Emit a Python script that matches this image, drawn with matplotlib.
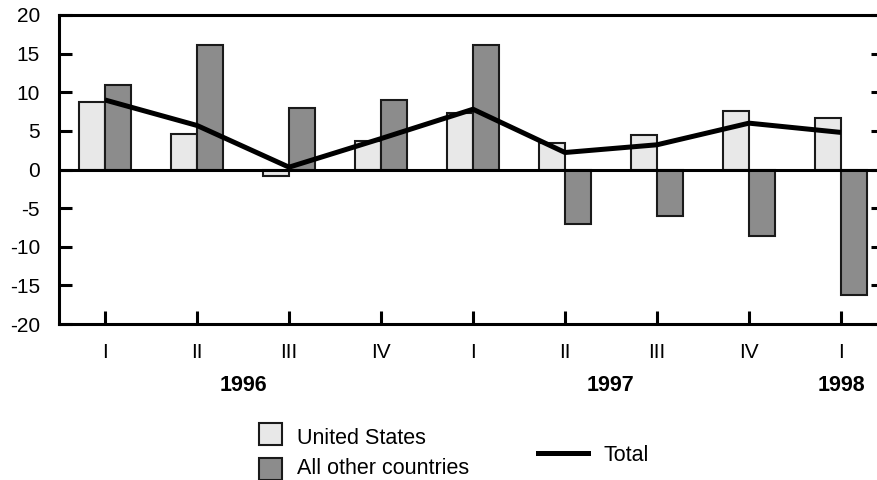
import matplotlib
matplotlib.use("Agg")
import matplotlib.pyplot as plt
from matplotlib.patches import Rectangle
from matplotlib.lines import Line2D
import numpy as np

plt.rcParams['font.family'] = ['Liberation Sans', 'DejaVu Sans']
plt.rcParams['axes.unicode_minus'] = False

quarters = ["I", "II", "III", "IV", "I", "II", "III", "IV", "I"]
years = ["1996", "1997", "1998"]
us = [8.7, 4.6, -0.8, 3.7, 7.3, 3.4, 4.5, 7.6, 6.7]
others = [10.9, 16.1, 7.9, 9.0, 16.1, -7.1, -6.0, -8.6, -16.3]
total = [9.0, 5.7, 0.3, 4.0, 7.8, 2.2, 3.2, 6.0, 4.8]

W, H = 878, 480
fig = plt.figure(figsize=(W / 100, H / 100), dpi=100)
left_px, right_px, top_px, bot_px = 59.5, 884, 15, 324
ax = fig.add_axes([left_px / W, 1 - bot_px / H, (right_px - left_px) / W, (bot_px - top_px) / H])

x = np.arange(len(quarters))
bw = 0.28
edge = '#1a1a1a'
ax.bar(x - bw / 2, us, bw, color='#e8e8e8', edgecolor=edge, linewidth=1.5, zorder=2)
ax.bar(x + bw / 2, others, bw, color='#8c8c8c', edgecolor=edge, linewidth=1.5, zorder=2)
ax.axhline(0, color='black', linewidth=2.2, zorder=3)
ax.plot(x, total, color='black', linewidth=3.6, zorder=4, solid_capstyle='butt')

ax.set_ylim(-20, 20)
ax.set_xlim((left_px - 105) / 92, (right_px - 105) / 92)
ax.set_yticks(np.arange(-20, 21, 5))
ax.set_xticks(x)
ax.set_xticklabels(quarters)
for s in ax.spines.values():
    s.set_linewidth(2.2)
ax.tick_params(axis='y', direction='in', length=9.5, width=2.2, labelsize=15, pad=14, right=True)
ax.tick_params(axis='x', direction='in', length=9.5, width=2.2, labelsize=15, pad=14)

# year labels
year_pos = [1.5, 5.5, 8]
for yp, yl in zip(year_pos, years):
    xd = ax.transData.transform((yp, 0))[0] / W
    fig.text(xd, 1 - 383 / H, yl, ha='center', va='center_baseline', fontsize=15.5, fontweight='bold')

# legend
def px(xp, yp):
    return xp / W, 1 - yp / H
fig.patches.append(Rectangle(px(259, 445), 23 / W, 22 / H, transform=fig.transFigure,
                             facecolor='#e8e8e8', edgecolor=edge, linewidth=1.5))
fig.patches.append(Rectangle(px(259, 480), 23 / W, 22 / H, transform=fig.transFigure,
                             facecolor='#8c8c8c', edgecolor=edge, linewidth=1.5))
fig.text(*px(297, 436), "United States", ha='left', va='center_baseline', fontsize=15.5)
fig.text(*px(297, 466), "All other countries", ha='left', va='center_baseline', fontsize=15.5)
fig.lines.append(Line2D([538 / W, 588 / W], [1 - 453 / H] * 2, transform=fig.transFigure,
                        color='black', linewidth=3.6))
fig.text(*px(603, 453), "Total", ha='left', va='center_baseline', fontsize=15.5)

fig.savefig("out.png", dpi=100)
